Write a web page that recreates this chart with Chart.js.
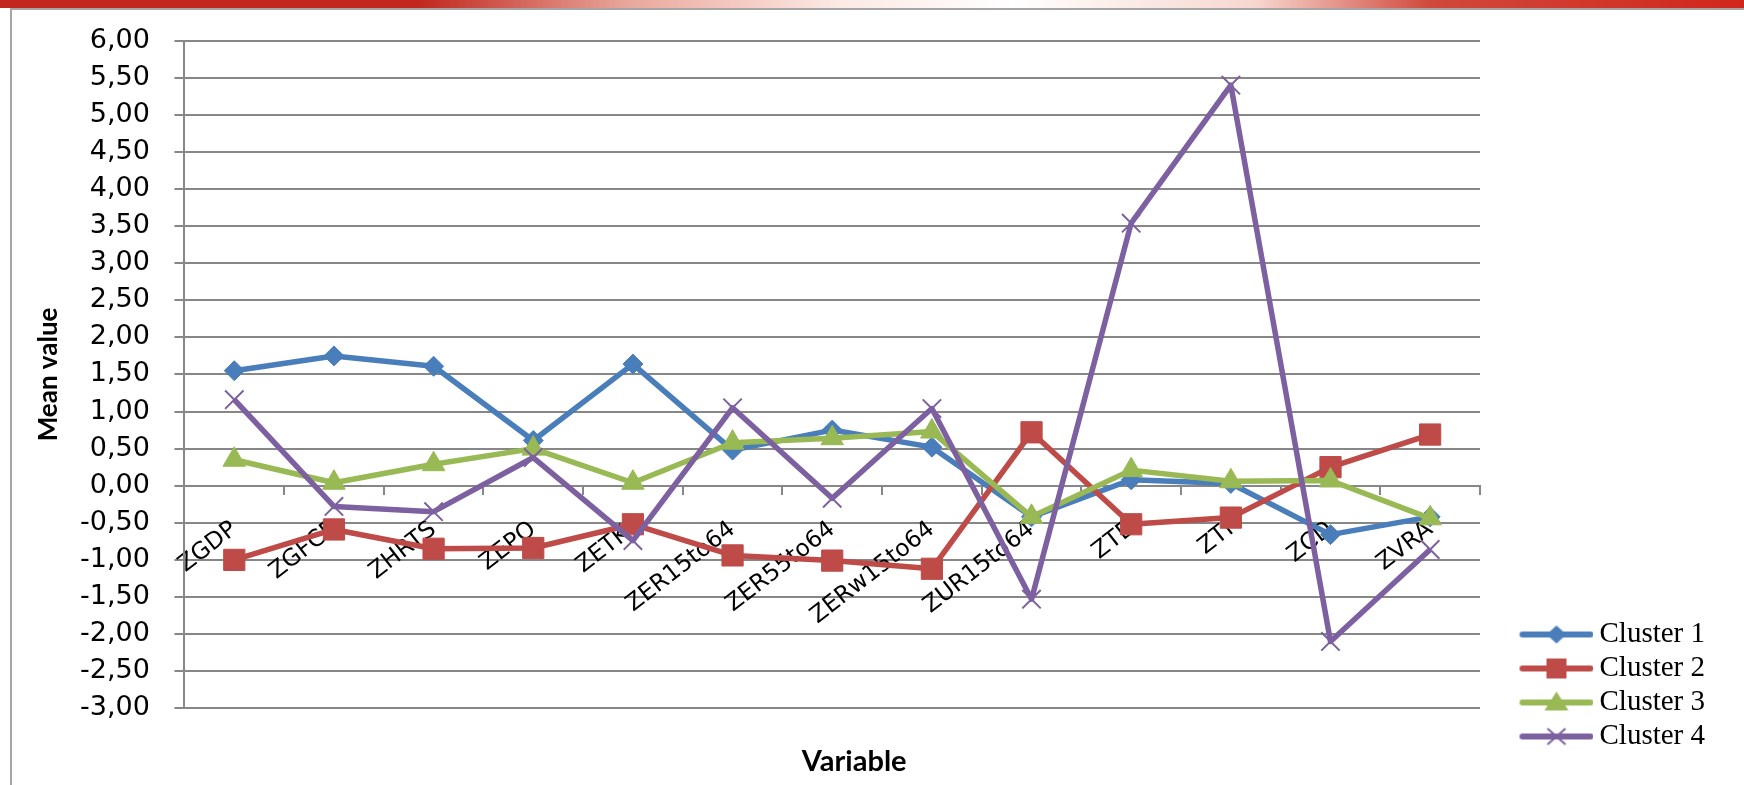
<!DOCTYPE html>
<html>
<head>
<meta charset="utf-8">
<title>Mean value by variable and cluster</title>
<script src="https://cdn.jsdelivr.net/npm/chart.js@4.4.1/dist/chart.umd.min.js"></script>
<style>
  html, body { margin: 0; padding: 0; background: #ffffff; }
  #wrap { position: relative; width: 1744px; height: 785px; overflow: hidden; }
  #band {
    position: absolute; left: 0; top: 0; width: 1744px; height: 8px;
    background: linear-gradient(to right, #c1271d 0%, #c1271d 24%, #e9a79c 36%, #fbe9e4 48%, #ffffff 58%, #f7d6cf 72%, #d0493c 82%, #d1261b 100%);
  }
  #frame {
    position: absolute; left: 10px; top: 8px; width: 1740px; height: 790px;
    border-left: 2px solid #a5a5a5; border-top: 2px solid #a5a5a5;
  }
  canvas { position: absolute; left: 0; top: 0; }
</style>
</head>
<body>
<div id="wrap">
  <div id="band"></div>
  <div id="frame"></div>
  <canvas id="clusters_chart" width="1744" height="785"></canvas>
</div>
<script>
// values
const variables = ["ZGDP", "ZGFCF", "ZHRTS", "ZEPO", "ZETKI", "ZER15to64", "ZER55to64",
  "ZERw15to64", "ZUR15to64", "ZTE", "ZTI", "ZCD", "ZVRA"];
const cluster1 = [1.55, 1.75, 1.61, 0.61, 1.64, 0.48, 0.75, 0.52, -0.42, 0.08, 0.03, -0.66, -0.42];
const cluster2 = [-1.00, -0.59, -0.85, -0.84, -0.52, -0.94, -1.01, -1.12, 0.72, -0.52, -0.43, 0.25, 0.69];
const cluster3 = [0.35, 0.04, 0.29, 0.50, 0.04, 0.58, 0.64, 0.73, -0.42, 0.21, 0.06, 0.07, -0.44];
const cluster4 = [1.16, -0.28, -0.35, 0.38, -0.74, 1.05, -0.17, 1.04, -1.53, 3.54, 5.40, -2.10, -0.86];
const seriesNames = ["Cluster 1", "Cluster 2", "Cluster 3", "Cluster 4"];
const yMin = -3, yMax = 6, yStep = 0.5;

const COLORS = ["#4a7ebb", "#be4b48", "#98b954", "#7d60a0"];
const MARKERS = ["rectRot", "rect", "triangle", "crossRot"];
const GRID = "#878787";

// little line + marker pictures for the legend (like the Excel legend)
function legendIcon(color, marker) {
  const c = document.createElement("canvas");
  c.width = 117;
  c.height = 26;
  const g = c.getContext("2d");
  const cx = 80, cy = 13;
  g.strokeStyle = color;
  g.fillStyle = color;
  g.lineCap = "round";
  g.lineWidth = 6;
  g.beginPath();
  g.moveTo(46, cy);
  g.lineTo(114, cy);
  g.stroke();
  g.beginPath();
  if (marker === "rectRot") {
    g.moveTo(cx, cy - 9); g.lineTo(cx + 10, cy); g.lineTo(cx, cy + 9); g.lineTo(cx - 10, cy);
    g.closePath(); g.fill();
  } else if (marker === "rect") {
    g.rect(cx - 10, cy - 10, 20, 20); g.fill();
  } else if (marker === "triangle") {
    g.moveTo(cx, cy - 11); g.lineTo(cx + 12, cy + 8); g.lineTo(cx - 12, cy + 8);
    g.closePath(); g.fill();
  } else {
    g.lineWidth = 2;
    g.lineCap = "butt";
    g.moveTo(cx - 9, cy - 8); g.lineTo(cx + 9, cy + 8);
    g.moveTo(cx + 9, cy - 8); g.lineTo(cx - 9, cy + 8);
    g.stroke();
  }
  return c;
}
const icons = COLORS.map((col, i) => legendIcon(col, MARKERS[i]));

function makeDataset(i, values, radius) {
  return {
    label: seriesNames[i],
    data: values,
    xAxisID: "x",
    yAxisID: "y",
    borderColor: COLORS[i],
    backgroundColor: COLORS[i],
    borderWidth: 5.5,
    borderJoinStyle: "round",
    tension: 0,
    pointStyle: MARKERS[i],
    pointRadius: radius,
    pointBackgroundColor: COLORS[i],
    pointBorderColor: COLORS[i],
    pointBorderWidth: MARKERS[i] === "crossRot" ? 2 : 1,
    order: 3 - i, // later clusters drawn on top, as in Excel
  };
}

const data = {
  labels: variables,
  datasets: [
    makeDataset(0, cluster1, 10),
    makeDataset(1, cluster2, 15),
    makeDataset(2, cluster3, 13),
    makeDataset(3, cluster4, 13),
  ],
};

// the Excel axis title sits a bit right of the plot centre
const nudgeAxisTitle = {
  id: "nudgeAxisTitle",
  afterLayout(chart) {
    const s = chart.scales.x2;
    s.left += 22;
    s.right += 22;
  },
};

const config = {
  type: "line",
  data,
  plugins: [nudgeAxisTitle],
  options: {
    responsive: false,
    animation: false,
    layout: { padding: { left: 10, top: 33, right: 29, bottom: 29 } },
    scales: {
      x: {
        type: "category",
        position: { y: 0 },
        offset: true,
        grid: {
          offset: true,
          drawOnChartArea: false,
          drawTicks: true,
          tickLength: 8,
          color: GRID,
          lineWidth: 2,
        },
        border: { display: true, color: GRID, width: 2 },
        ticks: {
          autoSkip: false,
          minRotation: 38,
          maxRotation: 38,
          padding: 22,
          color: "#000000",
          font: { family: "DejaVu Sans", size: 23.5 },
        },
      },
      x2: {
        type: "category",
        position: "bottom",
        offset: true,
        grid: { display: false },
        border: { display: false },
        ticks: { display: false },
        title: {
          display: true,
          text: "Variable",
          color: "#000000",
          font: { family: "Lato", size: 29, weight: "bold" },
          padding: { top: 28, bottom: -23 },
        },
      },
      y: {
        type: "linear",
        position: "left",
        min: yMin,
        max: yMax,
        ticks: {
          stepSize: yStep,
          padding: 24.5,
          color: "#000000",
          font: { family: "DejaVu Sans", size: 27 },
          callback: (v) => Number(v).toFixed(2).replace(".", ","),
        },
        grid: { color: GRID, lineWidth: 2, tickLength: 10 },
        border: { color: GRID, width: 2 },
        title: {
          display: true,
          text: "Mean value",
          color: "#000000",
          font: { family: "Lato", size: 26, weight: "bold" },
          padding: { top: 22.8, bottom: -8.4 },
        },
      },
    },
    plugins: {
      tooltip: { enabled: false },
      legend: {
        position: "right",
        align: "end",
        labels: {
          usePointStyle: true,
          pointStyleWidth: 100,
          padding: 5,
          color: "#000000",
          font: { family: "Liberation Serif", size: 29 },
          sort: (a, b) => a.datasetIndex - b.datasetIndex,
          generateLabels: (chart) =>
            Chart.defaults.plugins.legend.labels.generateLabels(chart).map((item) => {
              item.pointStyle = icons[item.datasetIndex];
              item.lineWidth = 0;
              return item;
            }),
        },
      },
    },
  },
};

const clusters_chart = new Chart(document.getElementById("clusters_chart"), config);
</script>
</body>
</html>
